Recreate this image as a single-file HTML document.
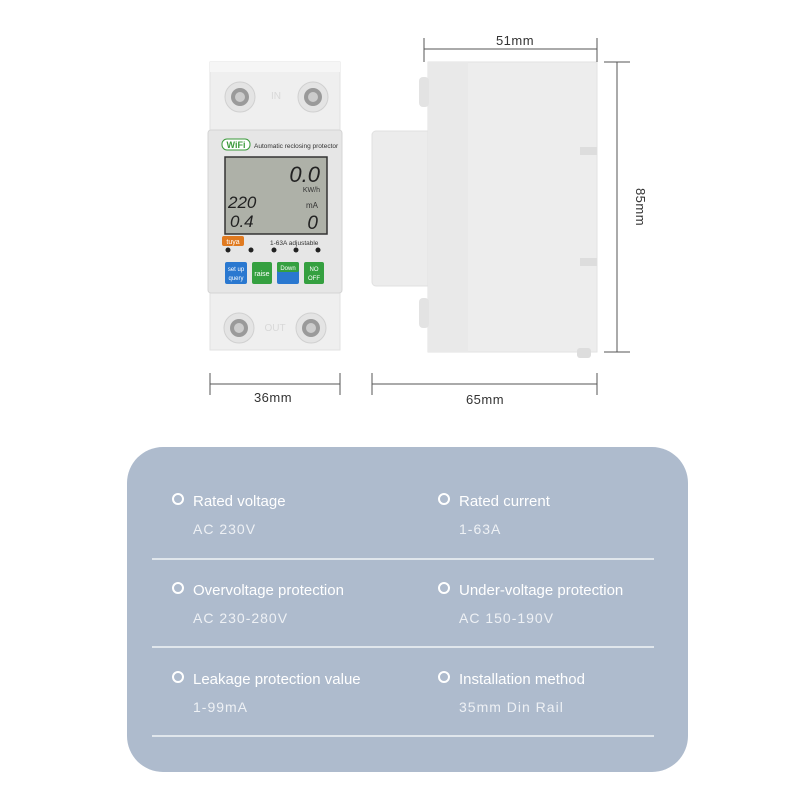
<!DOCTYPE html>
<html><head><style>
body{margin:0;width:800px;height:800px;background:#fff;overflow:hidden;font-family:"Liberation Sans",sans-serif}
</style></head><body>
<svg width="800" height="800" viewBox="0 0 800 800" xmlns="http://www.w3.org/2000/svg" font-family="Liberation Sans, sans-serif">
<!-- front device -->
<rect x="210" y="62" width="130" height="288" fill="#efefef" stroke="#e2e2e2"/>
<rect x="210" y="62" width="130" height="10" fill="#f6f6f6"/>
<circle cx="240" cy="97" r="15" fill="#e4e4e4" stroke="#d0d0d0"/>
<circle cx="240" cy="97" r="9" fill="#9a9a9a"/>
<circle cx="240" cy="97" r="5" fill="#ccc"/>
<circle cx="313" cy="97" r="15" fill="#e4e4e4" stroke="#d0d0d0"/>
<circle cx="313" cy="97" r="9" fill="#9a9a9a"/>
<circle cx="313" cy="97" r="5" fill="#ccc"/>
<text x="276" y="99" font-size="10" fill="#d8d8d8" text-anchor="middle">IN</text>
<rect x="208" y="130" width="134" height="163" rx="3" fill="#e6e6e6" stroke="#d4d4d4"/>
<rect x="222" y="139" width="28" height="11" rx="5" fill="#fff" stroke="#3a9a3a"/>
<text x="236" y="148" font-size="9" font-weight="bold" fill="#3a9a3a" text-anchor="middle">WiFi</text>
<text x="254" y="148" font-size="6.5" fill="#333">Automatic reclosing protector</text>
<rect x="225" y="157" width="102" height="77" fill="#aeb1a8" stroke="#333" stroke-width="1.5"/>
<text x="320" y="182" font-size="22" font-style="italic" fill="#222" text-anchor="end">0.0</text>
<text x="320" y="192" font-size="7" fill="#333" text-anchor="end">KW/h</text>
<text x="228" y="208" font-size="17" font-style="italic" fill="#222">220</text>
<text x="230" y="227" font-size="17" font-style="italic" fill="#222">0.4</text>
<text x="318" y="208" font-size="8" fill="#333" text-anchor="end">mA</text>
<text x="318" y="229" font-size="19" font-style="italic" fill="#222" text-anchor="end">0</text>
<rect x="222" y="236" width="22" height="10" rx="2" fill="#e07a20"/>
<text x="233" y="244" font-size="7" fill="#fff" text-anchor="middle">tuya</text>
<text x="270" y="245" font-size="6.5" fill="#333">1-63A adjustable</text>
<g fill="#222"><circle cx="228" cy="250" r="2.5"/><circle cx="251" cy="250" r="2.5"/><circle cx="274" cy="250" r="2.5"/><circle cx="296" cy="250" r="2.5"/><circle cx="318" cy="250" r="2.5"/></g>
<rect x="225" y="262" width="22" height="22" rx="2" fill="#2a78d0"/>
<rect x="252" y="262" width="20" height="22" rx="2" fill="#35a040"/>
<rect x="277" y="262" width="22" height="22" rx="2" fill="#2a78d0"/>
<rect x="277" y="262" width="22" height="10" rx="2" fill="#35a040"/>
<rect x="304" y="262" width="20" height="22" rx="2" fill="#35a040"/>
<text x="236" y="271" font-size="6" fill="#fff" text-anchor="middle">set up</text>
<text x="236" y="280" font-size="6" fill="#fff" text-anchor="middle">query</text>
<text x="262" y="276" font-size="7" fill="#fff" text-anchor="middle">raise</text>
<text x="288" y="270" font-size="6" fill="#fff" text-anchor="middle">Down</text>
<text x="314" y="271" font-size="6" fill="#fff" text-anchor="middle">NO</text>
<text x="314" y="280" font-size="6" fill="#fff" text-anchor="middle">OFF</text>
<circle cx="239" cy="328" r="15" fill="#e4e4e4" stroke="#d0d0d0"/>
<circle cx="239" cy="328" r="9" fill="#9a9a9a"/>
<circle cx="239" cy="328" r="5" fill="#ccc"/>
<circle cx="311" cy="328" r="15" fill="#e4e4e4" stroke="#d0d0d0"/>
<circle cx="311" cy="328" r="9" fill="#9a9a9a"/>
<circle cx="311" cy="328" r="5" fill="#ccc"/>
<text x="275" y="331" font-size="10" fill="#d8d8d8" text-anchor="middle">OUT</text>
<!-- side device -->
<rect x="372" y="131" width="60" height="155" rx="4" fill="#ececec" stroke="#e0e0e0"/>
<rect x="428" y="62" width="169" height="290" fill="#ededed" stroke="#e2e2e2"/>
<rect x="428" y="62" width="40" height="290" fill="#e9e9e9"/>
<rect x="419" y="77" width="10" height="30" rx="4" fill="#e3e3e3"/>
<rect x="419" y="298" width="10" height="30" rx="4" fill="#e3e3e3"/>
<rect x="580" y="147" width="17" height="8" fill="#ddd"/>
<rect x="580" y="258" width="17" height="8" fill="#ddd"/>
<rect x="577" y="348" width="14" height="10" rx="3" fill="#ddd"/>
<!-- dimension lines -->
<g stroke="#555" stroke-width="1" fill="none">
<line x1="424" y1="49" x2="597" y2="49"/><line x1="424" y1="38" x2="424" y2="62"/><line x1="597" y1="38" x2="597" y2="62"/>
<line x1="617" y1="62" x2="617" y2="352"/><line x1="604" y1="62" x2="630" y2="62"/><line x1="604" y1="352" x2="630" y2="352"/>
<line x1="372" y1="384" x2="597" y2="384"/><line x1="372" y1="373" x2="372" y2="395"/><line x1="597" y1="373" x2="597" y2="395"/>
<line x1="210" y1="384" x2="340" y2="384"/><line x1="210" y1="373" x2="210" y2="395"/><line x1="340" y1="373" x2="340" y2="395"/>
</g>
<g font-size="13" fill="#333" text-anchor="middle" letter-spacing="0.5">
<text x="515" y="45">51mm</text>
<text x="485" y="404">65mm</text>
<text x="273" y="402">36mm</text>
<text transform="translate(636,207) rotate(90)">85mm</text>
</g>
<!-- card -->
<rect x="127" y="447" width="561" height="325" rx="36" fill="#aebbcd"/>
<g stroke="#fff" stroke-width="1.2"><line x1="152" y1="559" x2="654" y2="559"/><line x1="152" y1="647" x2="654" y2="647"/><line x1="152" y1="736" x2="654" y2="736"/></g>
<g fill="none" stroke="#fff" stroke-width="2"><circle cx="178" cy="499" r="5"/><circle cx="444" cy="499" r="5"/><circle cx="178" cy="588" r="5"/><circle cx="444" cy="588" r="5"/><circle cx="178" cy="677" r="5"/><circle cx="444" cy="677" r="5"/></g>
<g font-size="15" fill="#fff">
<text x="193" y="506">Rated voltage</text><text x="459" y="506">Rated current</text>
<text x="193" y="595">Overvoltage protection</text><text x="459" y="595">Under-voltage protection</text>
<text x="193" y="684">Leakage protection value</text><text x="459" y="684">Installation method</text>
</g>
<g font-size="14" fill="#eef1f5" letter-spacing="1">
<text x="193" y="534">AC 230V</text><text x="459" y="534">1-63A</text>
<text x="193" y="623">AC 230-280V</text><text x="459" y="623">AC 150-190V</text>
<text x="193" y="712">1-99mA</text><text x="459" y="712">35mm Din Rail</text>
</g>
</svg>
</body></html>
